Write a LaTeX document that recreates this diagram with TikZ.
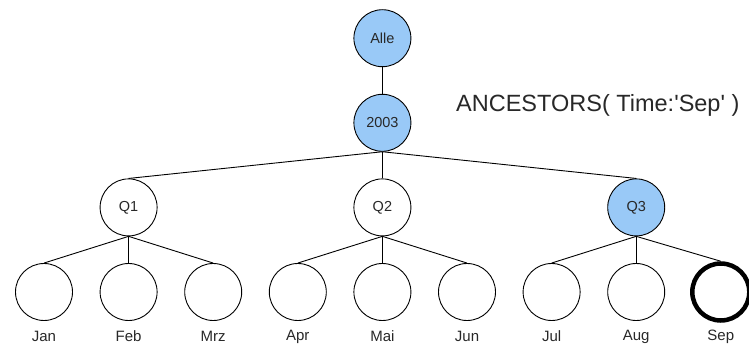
\documentclass[tikz,border=0pt]{standalone}
\usepackage{fontspec}
\setmainfont{Liberation Sans}
\definecolor{selblue}{RGB}{153,201,247}
\definecolor{inkgray}{RGB}{40,40,40}
\tikzstyle{member} = [circle, draw, minimum size=57pt, inner sep=0pt, line width=0.9pt, text=inkgray, font=\fontsize{14.5}{14.5}\selectfont]
\tikzstyle{ancestor} = [member, fill=selblue]
\tikzstyle{target} = [member, line width=4.5pt]
\tikzstyle{connector} = [line width=0.9pt]
\tikzstyle{monthname} = [inner sep=0pt, text=inkgray, font=\fontsize{15}{15}\selectfont]

\begin{document}
\begin{tikzpicture}[node distance=84.6pt, x=1pt, y=1pt]
                \useasboundingbox (0,0) rectangle (749,-347);

                % months
                \node (jan) [member] at (44,-292) {};
                \node (feb) [member, right of=jan] {};
                \node (mrz) [member, right of=feb] {};
                \node (apr) [member, right of=mrz] {};
                \node (mai) [member, right of=apr] {};
                \node (jun) [member, right of=mai] {};
                \node (jul) [member, right of=jun] {};
                \node (aug) [member, right of=jul] {};
                \node (sep) [target, right of=aug] {};

                % quarters, year, all
                \node (q1) [member, above of=feb] {Q1};
                \node (q2) [member, above of=mai] {Q2};
                \node (q3) [ancestor, above of=aug] {Q3};
                \node (y2003) [ancestor, above of=q2] {2003};
                \node (alle) [ancestor, above of=y2003] {Alle};

                % month names
                \node (janl) [monthname, below of=jan, yshift=40pt] {Jan};
                \node (febl) [monthname, below of=feb, yshift=40pt] {Feb};
                \node (mrzl) [monthname, below of=mrz, yshift=40pt] {Mrz};
                \node (aprl) [monthname, below of=apr, yshift=40pt] {Apr};
                \node (mail) [monthname, below of=mai, yshift=40pt] {Mai};
                \node (junl) [monthname, below of=jun, yshift=40pt] {Jun};
                \node (jull) [monthname, below of=jul, yshift=40pt] {Jul};
                \node (augl) [monthname, below of=aug, yshift=40pt] {Aug};
                \node (sepl) [monthname, below of=sep, yshift=40pt] {Sep};

                \node (query) [anchor=west, inner sep=0pt, text=inkgray, font=\fontsize{23.5}{23.5}\selectfont] at (456,-105) {ANCESTORS( Time:\textquotesingle Sep\textquotesingle\ )};

                \draw [connector] (alle.south) -- (y2003.north);
                \draw [connector] (y2003.south) -- (q1.north);
                \draw [connector] (y2003.south) -- (q2.north);
                \draw [connector] (y2003.south) -- (q3.north);
                \draw [connector] (q1.south) -- (jan.north);
                \draw [connector] (q1.south) -- (feb.north);
                \draw [connector] (q1.south) -- (mrz.north);
                \draw [connector] (q2.south) -- (apr.north);
                \draw [connector] (q2.south) -- (mai.north);
                \draw [connector] (q2.south) -- (jun.north);
                \draw [connector] (q3.south) -- (jul.north);
                \draw [connector] (q3.south) -- (aug.north);
                \draw [connector] (q3.south) -- (sep.north);
            \end{tikzpicture}
\end{document}
